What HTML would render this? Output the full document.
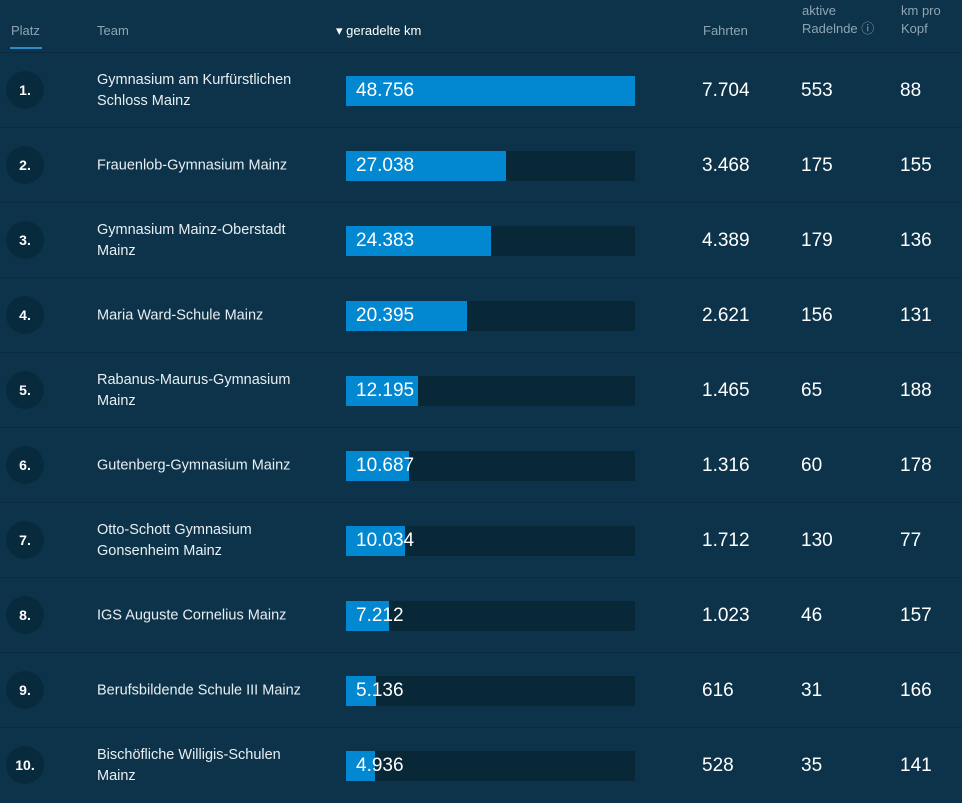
<!DOCTYPE html>
<html><head><style>
body{margin:0;width:962px;height:793px;overflow:hidden;background:#0c3349;font-family:"Liberation Sans",sans-serif;color:#e8eef2;position:relative}
.h{position:absolute;font-size:13px;color:#8fa5b3;line-height:18px}
.row{position:absolute;left:0;width:962px;height:75px;border-top:1px solid #0a2a3d}
.c{position:absolute;left:6px;top:18px;width:38px;height:38px;border-radius:50%;background:#082a3d;font-size:14px;font-weight:bold;text-align:center;line-height:38px;color:#fff}
.t{position:absolute;left:97px;width:215px;font-size:14.5px;line-height:21px;top:50%;transform:translateY(-50%)}
.tr{position:absolute;left:346px;top:23px;width:289px;height:30px;background:#082838}
.b{position:absolute;left:0;top:0;height:30px;background:#0288d1}
.v{position:absolute;left:10px;top:0;line-height:30px;font-size:19px;color:#fff}
.n{position:absolute;top:0;line-height:75px;font-size:19px;color:#fff}
</style></head><body>
<div class="h" style="left:11px;top:22px">Platz</div>
<div style="position:absolute;left:10px;top:47px;width:32px;height:2px;background:#2d8cc8"></div>
<div class="h" style="left:97px;top:22px">Team</div>
<div class="h" style="left:336px;top:22px;color:#fff">&#9662; geradelte km</div>
<div class="h" style="left:703px;top:22px">Fahrten</div>
<div class="h" style="left:802px;top:2px">aktive<br>Radelnde &#9432;</div>
<div class="h" style="left:901px;top:2px">km pro<br>Kopf</div>
<div id="rows"></div>
<script>
const d=[["Gymnasium am Kurfürstlichen Schloss Mainz","48.756",48756,"7.704","553","88"],
["Frauenlob-Gymnasium Mainz","27.038",27038,"3.468","175","155"],
["Gymnasium Mainz-Oberstadt Mainz","24.383",24383,"4.389","179","136"],
["Maria Ward-Schule Mainz","20.395",20395,"2.621","156","131"],
["Rabanus-Maurus-Gymnasium Mainz","12.195",12195,"1.465","65","188"],
["Gutenberg-Gymnasium Mainz","10.687",10687,"1.316","60","178"],
["Otto-Schott Gymnasium Gonsenheim Mainz","10.034",10034,"1.712","130","77"],
["IGS Auguste Cornelius Mainz","7.212",7212,"1.023","46","157"],
["Berufsbildende Schule III Mainz","5.136",5136,"616","31","166"],
["Bischöfliche Willigis-Schulen Mainz","4.936",4936,"528","35","141"]];
let h="";d.forEach((r,i)=>{h+=`<div class="row" style="top:${52+75*i}px"><div class="c">${i+1}.</div><div class="t">${r[0]}</div><div class="tr"><div class="b" style="width:${Math.round(r[2]/48756*289)}px"></div><div class="v">${r[1]}</div></div><div class="n" style="left:702px">${r[3]}</div><div class="n" style="left:801px">${r[4]}</div><div class="n" style="left:900px">${r[5]}</div></div>`});
document.getElementById("rows").innerHTML=h;
</script>
</body></html>
